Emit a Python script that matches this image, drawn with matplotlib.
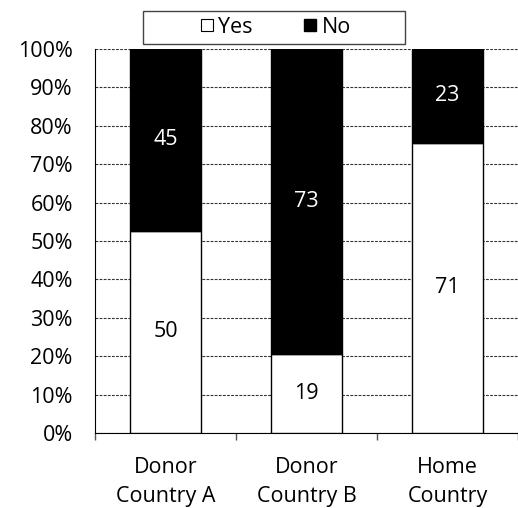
import matplotlib
matplotlib.use("Agg")
import matplotlib.pyplot as plt
from matplotlib.lines import Line2D
from matplotlib.patches import Rectangle
from matplotlib.ticker import PercentFormatter, FixedLocator
import numpy as np

categories = ["Donor\nCountry A", "Donor\nCountry B", "Home\nCountry"]
yes_counts = [50, 19, 71]
no_counts = [45, 73, 23]
series_labels = ["Yes", "No"]

plt.rcParams["font.family"] = ["Open Sans", "DejaVu Sans"]
FS = 15.5

yes = np.array(yes_counts, dtype=float)
no = np.array(no_counts, dtype=float)
total = yes + no
yes_pct = yes / total * 100
no_pct = no / total * 100

W, H = 518, 508
fig = plt.figure(figsize=(W / 100, H / 100), dpi=100)
ax = fig.add_axes([95 / W, 1 - 433 / H, 423 / W, 384 / H])

x = np.arange(len(categories))
ax.bar(x, yes_pct, width=0.5, color="white", edgecolor="black", linewidth=1.0, zorder=3)
ax.bar(x, no_pct, width=0.5, bottom=yes_pct, color="black", edgecolor="black",
       linewidth=1.0, zorder=3)

for xi, yp, np_, yc, nc in zip(x, yes_pct, no_pct, yes_counts, no_counts):
    ax.text(xi, yp / 2, str(yc), ha="center", va="center", fontsize=FS, color="black", zorder=4)
    ax.text(xi, yp + np_ / 2, str(nc), ha="center", va="center", fontsize=FS, color="white", zorder=4)

ax.set_xlim(-0.5, 2.5)
ax.set_ylim(0, 100)
ax.yaxis.set_major_locator(FixedLocator(np.arange(0, 101, 10)))
ax.yaxis.set_major_formatter(PercentFormatter(decimals=0))
ax.grid(axis="y", linestyle=(0, (2.5, 1.2)), color="#333333", linewidth=0.8, zorder=0)

ax.set_xticks(x)
ax.set_xticklabels(categories, fontsize=FS, linespacing=1.55)
ax.xaxis.set_minor_locator(FixedLocator([-0.5, 0.5, 1.5, 2.5]))
ax.tick_params(axis="x", which="major", length=0, pad=17)
ax.tick_params(axis="x", which="minor", length=5, width=1, direction="out", color="#555555")
ax.tick_params(axis="y", length=0, labelsize=FS, pad=16)

for side in ["top", "right"]:
    ax.spines[side].set_visible(False)
ax.spines["left"].set_color("black")
ax.spines["bottom"].set_color("black")

# legend box with its entries centred inside
fig.patches.append(Rectangle((143 / W, 1 - 44 / H), 262 / W, 33 / H,
                             transform=fig.transFigure, facecolor="white",
                             edgecolor="#444444", linewidth=1.0, zorder=5))
handles = [
    Line2D([], [], marker="s", linestyle="none", markersize=8.5,
           markerfacecolor="white", markeredgecolor="black", markeredgewidth=0.8),
    Line2D([], [], marker="s", linestyle="none", markersize=8.5,
           markerfacecolor="black", markeredgecolor="black"),
]
leg = fig.legend(handles, series_labels, loc="center",
                 bbox_to_anchor=(275 / W, 1 - 27.5 / H), ncol=2, fontsize=FS,
                 frameon=False, handletextpad=0.2, columnspacing=2.3,
                 borderpad=0.0, handlelength=0.7)
leg.set_zorder(6)

fig.savefig("out.png", dpi=100)
